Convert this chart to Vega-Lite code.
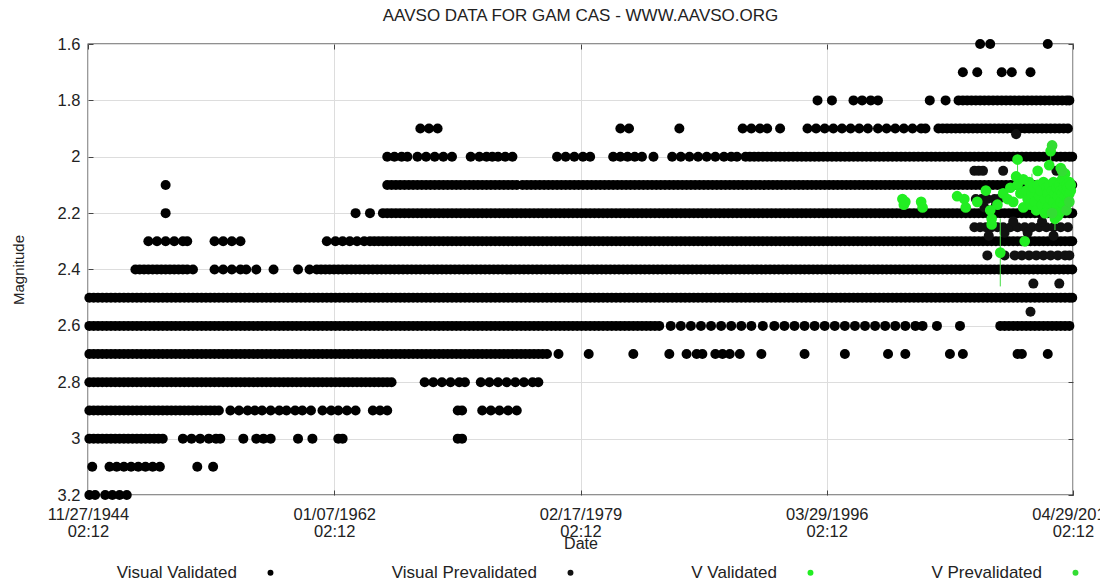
{
"$schema": "https://vega.github.io/schema/vega-lite/v6.json",
"autosize": {"type": "none"},
"padding": {"left": 88, "top": 44, "right": 27, "bottom": 89},
"width": 985,
"height": 451,
"background": "white",
"title": {"text": "AAVSO DATA FOR GAM CAS - WWW.AAVSO.ORG", "fontSize": 17, "font": "Liberation Sans", "fontWeight": "normal", "color": "#222", "anchor": "middle", "offset": 11},
"config": {
  "view": {"stroke": "#222", "strokeWidth": 1.3},
  "axis": {"labelFont": "Liberation Sans", "titleFont": "Liberation Sans", "labelColor": "#222", "titleColor": "#222", "labelFontSize": 16.5, "titleFontSize": 15, "titleFontWeight": "normal", "domain": false, "gridColor": "#dddddd", "gridWidth": 1, "tickColor": "#444", "tickSize": -5},
  "legend": {"orient": "none", "legendX": 174, "legendY": 520, "direction": "horizontal", "columns": 4, "labelAlign": "right", "labelOffset": -42, "columnPadding": 117, "symbolSize": 35, "labelFontSize": 17, "labelFont": "Liberation Sans", "labelColor": "#222", "labelLimit": 400, "title": null}
},
"datasets": {
"vv": [
{"year":1945.0,"mag":2.5},{"year":1945.6,"mag":2.5},{"year":1946.2,"mag":2.5},{"year":1946.8,"mag":2.5},{"year":1947.4,"mag":2.5},{"year":1948.0,"mag":2.5},{"year":1948.6,"mag":2.5},{"year":1949.2,"mag":2.5},{"year":1949.8,"mag":2.5},{"year":1950.4,"mag":2.5},{"year":1951.0,"mag":2.5},{"year":1951.6,"mag":2.5},{"year":1952.2,"mag":2.5},{"year":1952.8,"mag":2.5},{"year":1953.4,"mag":2.5},{"year":1954.0,"mag":2.5},{"year":1954.6,"mag":2.5},{"year":1955.2,"mag":2.5},{"year":1955.8,"mag":2.5},{"year":1956.4,"mag":2.5},{"year":1957.0,"mag":2.5},{"year":1957.6,"mag":2.5},{"year":1958.2,"mag":2.5},{"year":1958.8,"mag":2.5},{"year":1959.4,"mag":2.5},{"year":1960.0,"mag":2.5},{"year":1960.6,"mag":2.5},{"year":1961.2,"mag":2.5},{"year":1961.8,"mag":2.5},{"year":1962.4,"mag":2.5},{"year":1963.0,"mag":2.5},{"year":1963.6,"mag":2.5},{"year":1964.2,"mag":2.5},{"year":1964.8,"mag":2.5},{"year":1965.4,"mag":2.5},{"year":1966.0,"mag":2.5},{"year":1966.6,"mag":2.5},{"year":1967.2,"mag":2.5},{"year":1967.8,"mag":2.5},{"year":1968.4,"mag":2.5},{"year":1969.0,"mag":2.5},{"year":1969.6,"mag":2.5},{"year":1970.2,"mag":2.5},{"year":1970.8,"mag":2.5},{"year":1971.4,"mag":2.5},{"year":1972.0,"mag":2.5},{"year":1972.6,"mag":2.5},{"year":1973.2,"mag":2.5},{"year":1973.8,"mag":2.5},{"year":1974.4,"mag":2.5},{"year":1975.0,"mag":2.5},{"year":1975.6,"mag":2.5},{"year":1976.2,"mag":2.5},{"year":1976.8,"mag":2.5},{"year":1977.4,"mag":2.5},{"year":1978.0,"mag":2.5},{"year":1978.6,"mag":2.5},{"year":1979.2,"mag":2.5},{"year":1979.8,"mag":2.5},{"year":1980.4,"mag":2.5},{"year":1981.0,"mag":2.5},{"year":1981.6,"mag":2.5},{"year":1982.2,"mag":2.5},{"year":1982.8,"mag":2.5},{"year":1983.4,"mag":2.5},{"year":1984.0,"mag":2.5},{"year":1984.6,"mag":2.5},{"year":1985.2,"mag":2.5},{"year":1985.8,"mag":2.5},{"year":1986.4,"mag":2.5},{"year":1987.0,"mag":2.5},{"year":1987.6,"mag":2.5},{"year":1988.2,"mag":2.5},{"year":1988.8,"mag":2.5},{"year":1989.4,"mag":2.5},{"year":1990.0,"mag":2.5},{"year":1990.6,"mag":2.5},{"year":1991.2,"mag":2.5},{"year":1991.8,"mag":2.5},{"year":1992.4,"mag":2.5},{"year":1993.0,"mag":2.5},{"year":1993.6,"mag":2.5},{"year":1994.2,"mag":2.5},{"year":1994.8,"mag":2.5},{"year":1995.4,"mag":2.5},{"year":1996.0,"mag":2.5},{"year":1996.6,"mag":2.5},{"year":1997.2,"mag":2.5},{"year":1997.8,"mag":2.5},{"year":1998.4,"mag":2.5},{"year":1999.0,"mag":2.5},{"year":1999.6,"mag":2.5},{"year":2000.2,"mag":2.5},{"year":2000.8,"mag":2.5},{"year":2001.4,"mag":2.5},{"year":2002.0,"mag":2.5},{"year":2002.6,"mag":2.5},{"year":2003.2,"mag":2.5},{"year":2003.8,"mag":2.5},{"year":2004.4,"mag":2.5},{"year":2005.0,"mag":2.5},{"year":2005.6,"mag":2.5},{"year":2006.2,"mag":2.5},{"year":2006.8,"mag":2.5},{"year":2007.4,"mag":2.5},{"year":2008.0,"mag":2.5},{"year":2008.6,"mag":2.5},{"year":2009.2,"mag":2.5},{"year":2009.8,"mag":2.5},{"year":2010.4,"mag":2.5},{"year":2011.0,"mag":2.5},{"year":2011.6,"mag":2.5},{"year":2012.2,"mag":2.5},{"year":2012.8,"mag":2.5},{"year":2013.3,"mag":2.5},
{"year":1945.3,"mag":2.5},{"year":1945.9,"mag":2.5},{"year":1946.5,"mag":2.5},{"year":1947.1,"mag":2.5},{"year":1947.7,"mag":2.5},{"year":1948.3,"mag":2.5},{"year":1948.9,"mag":2.5},{"year":1949.5,"mag":2.5},{"year":1950.1,"mag":2.5},{"year":1950.7,"mag":2.5},{"year":1951.3,"mag":2.5},{"year":1951.9,"mag":2.5},{"year":1952.5,"mag":2.5},{"year":1953.1,"mag":2.5},{"year":1953.7,"mag":2.5},{"year":1954.3,"mag":2.5},{"year":1954.9,"mag":2.5},{"year":1955.5,"mag":2.5},{"year":1956.1,"mag":2.5},{"year":1956.7,"mag":2.5},{"year":1957.3,"mag":2.5},{"year":1957.9,"mag":2.5},{"year":1958.5,"mag":2.5},{"year":1959.1,"mag":2.5},{"year":1959.7,"mag":2.5},{"year":1960.3,"mag":2.5},{"year":1960.9,"mag":2.5},{"year":1961.5,"mag":2.5},{"year":1962.1,"mag":2.5},{"year":1962.7,"mag":2.5},{"year":1963.3,"mag":2.5},{"year":1963.9,"mag":2.5},{"year":1964.5,"mag":2.5},{"year":1965.1,"mag":2.5},{"year":1965.7,"mag":2.5},{"year":1966.3,"mag":2.5},{"year":1966.9,"mag":2.5},{"year":1967.5,"mag":2.5},{"year":1968.1,"mag":2.5},{"year":1968.7,"mag":2.5},{"year":1969.3,"mag":2.5},{"year":1969.9,"mag":2.5},{"year":1970.5,"mag":2.5},{"year":1971.1,"mag":2.5},{"year":1971.7,"mag":2.5},{"year":1972.3,"mag":2.5},{"year":1972.9,"mag":2.5},{"year":1973.5,"mag":2.5},{"year":1974.1,"mag":2.5},{"year":1974.7,"mag":2.5},{"year":1975.3,"mag":2.5},{"year":1975.9,"mag":2.5},{"year":1976.5,"mag":2.5},{"year":1977.1,"mag":2.5},{"year":1977.7,"mag":2.5},{"year":1978.3,"mag":2.5},{"year":1978.9,"mag":2.5},{"year":1979.5,"mag":2.5},{"year":1980.1,"mag":2.5},{"year":1980.7,"mag":2.5},{"year":1981.3,"mag":2.5},{"year":1981.9,"mag":2.5},{"year":1982.5,"mag":2.5},{"year":1983.1,"mag":2.5},{"year":1983.7,"mag":2.5},{"year":1984.3,"mag":2.5},{"year":1984.9,"mag":2.5},{"year":1985.5,"mag":2.5},{"year":1986.1,"mag":2.5},{"year":1986.7,"mag":2.5},{"year":1987.3,"mag":2.5},{"year":1987.9,"mag":2.5},{"year":1988.5,"mag":2.5},{"year":1989.1,"mag":2.5},{"year":1989.7,"mag":2.5},{"year":1990.3,"mag":2.5},{"year":1990.9,"mag":2.5},{"year":1991.5,"mag":2.5},{"year":1992.1,"mag":2.5},{"year":1992.7,"mag":2.5},{"year":1993.3,"mag":2.5},{"year":1993.9,"mag":2.5},{"year":1994.5,"mag":2.5},{"year":1995.1,"mag":2.5},{"year":1995.7,"mag":2.5},{"year":1996.3,"mag":2.5},{"year":1996.9,"mag":2.5},{"year":1997.5,"mag":2.5},{"year":1998.1,"mag":2.5},{"year":1998.7,"mag":2.5},{"year":1999.3,"mag":2.5},{"year":1999.9,"mag":2.5},{"year":2000.5,"mag":2.5},{"year":2001.1,"mag":2.5},{"year":2001.7,"mag":2.5},{"year":2002.3,"mag":2.5},{"year":2002.9,"mag":2.5},{"year":2003.5,"mag":2.5},{"year":2004.1,"mag":2.5},{"year":2004.7,"mag":2.5},{"year":2005.3,"mag":2.5},{"year":2005.9,"mag":2.5},{"year":2006.5,"mag":2.5},{"year":2007.1,"mag":2.5},{"year":2007.7,"mag":2.5},{"year":2008.3,"mag":2.5},{"year":2008.9,"mag":2.5},{"year":2009.5,"mag":2.5},{"year":2010.1,"mag":2.5},{"year":2010.7,"mag":2.5},{"year":2011.3,"mag":2.5},{"year":2011.9,"mag":2.5},{"year":2012.5,"mag":2.5},{"year":2013.1,"mag":2.5},
{"year":1945.0,"mag":2.6},{"year":1945.6,"mag":2.6},{"year":1946.2,"mag":2.6},{"year":1946.8,"mag":2.6},{"year":1947.4,"mag":2.6},{"year":1948.0,"mag":2.6},{"year":1948.6,"mag":2.6},{"year":1949.2,"mag":2.6},{"year":1949.8,"mag":2.6},{"year":1950.4,"mag":2.6},{"year":1951.0,"mag":2.6},{"year":1951.6,"mag":2.6},{"year":1952.2,"mag":2.6},{"year":1952.8,"mag":2.6},{"year":1953.4,"mag":2.6},{"year":1954.0,"mag":2.6},{"year":1954.6,"mag":2.6},{"year":1955.2,"mag":2.6},{"year":1955.8,"mag":2.6},{"year":1956.4,"mag":2.6},{"year":1957.0,"mag":2.6},{"year":1957.6,"mag":2.6},{"year":1958.2,"mag":2.6},{"year":1958.8,"mag":2.6},{"year":1959.4,"mag":2.6},{"year":1960.0,"mag":2.6},{"year":1960.6,"mag":2.6},{"year":1961.2,"mag":2.6},{"year":1961.8,"mag":2.6},{"year":1962.4,"mag":2.6},{"year":1963.0,"mag":2.6},{"year":1963.6,"mag":2.6},{"year":1964.2,"mag":2.6},{"year":1964.8,"mag":2.6},{"year":1965.4,"mag":2.6},{"year":1966.0,"mag":2.6},{"year":1966.6,"mag":2.6},{"year":1967.2,"mag":2.6},{"year":1967.8,"mag":2.6},{"year":1968.4,"mag":2.6},{"year":1969.0,"mag":2.6},{"year":1969.6,"mag":2.6},{"year":1970.2,"mag":2.6},{"year":1970.8,"mag":2.6},{"year":1971.4,"mag":2.6},{"year":1972.0,"mag":2.6},{"year":1972.6,"mag":2.6},{"year":1973.2,"mag":2.6},{"year":1973.8,"mag":2.6},{"year":1974.4,"mag":2.6},{"year":1975.0,"mag":2.6},{"year":1975.6,"mag":2.6},{"year":1976.2,"mag":2.6},{"year":1976.8,"mag":2.6},{"year":1977.4,"mag":2.6},{"year":1978.0,"mag":2.6},{"year":1978.6,"mag":2.6},{"year":1979.2,"mag":2.6},{"year":1979.8,"mag":2.6},{"year":1980.4,"mag":2.6},{"year":1981.0,"mag":2.6},{"year":1981.6,"mag":2.6},{"year":1982.2,"mag":2.6},{"year":1982.8,"mag":2.6},{"year":1983.4,"mag":2.6},{"year":1984.0,"mag":2.6},{"year":1984.6,"mag":2.6},{"year":1985.4,"mag":2.6},{"year":1986.1,"mag":2.6},{"year":1986.8,"mag":2.6},{"year":1987.5,"mag":2.6},{"year":1988.2,"mag":2.6},{"year":1988.9,"mag":2.6},{"year":1989.6,"mag":2.6},{"year":1990.3,"mag":2.6},{"year":1991.0,"mag":2.6},{"year":1991.8,"mag":2.6},{"year":1992.6,"mag":2.6},{"year":1993.3,"mag":2.6},{"year":1994.0,"mag":2.6},{"year":1994.7,"mag":2.6},{"year":1995.4,"mag":2.6},{"year":1996.1,"mag":2.6},{"year":1996.8,"mag":2.6},{"year":1997.5,"mag":2.6},{"year":1998.2,"mag":2.6},{"year":1998.9,"mag":2.6},{"year":1999.6,"mag":2.6},{"year":2000.3,"mag":2.6},{"year":2001.0,"mag":2.6},{"year":2001.7,"mag":2.6},{"year":2002.4,"mag":2.6},{"year":2002.9,"mag":2.6},{"year":2003.9,"mag":2.6},{"year":2005.5,"mag":2.6},{"year":2008.3,"mag":2.6},{"year":2008.9,"mag":2.6},{"year":2009.5,"mag":2.6},{"year":2010.1,"mag":2.6},{"year":2010.7,"mag":2.6},{"year":2011.3,"mag":2.6},{"year":2011.9,"mag":2.6},{"year":2012.5,"mag":2.6},{"year":2013.1,"mag":2.6},
{"year":1945.3,"mag":2.6},{"year":1945.9,"mag":2.6},{"year":1946.5,"mag":2.6},{"year":1947.1,"mag":2.6},{"year":1947.7,"mag":2.6},{"year":1948.3,"mag":2.6},{"year":1948.9,"mag":2.6},{"year":1949.5,"mag":2.6},{"year":1950.1,"mag":2.6},{"year":1950.7,"mag":2.6},{"year":1951.3,"mag":2.6},{"year":1951.9,"mag":2.6},{"year":1952.5,"mag":2.6},{"year":1953.1,"mag":2.6},{"year":1953.7,"mag":2.6},{"year":1954.3,"mag":2.6},{"year":1954.9,"mag":2.6},{"year":1955.5,"mag":2.6},{"year":1956.1,"mag":2.6},{"year":1956.7,"mag":2.6},{"year":1957.3,"mag":2.6},{"year":1957.9,"mag":2.6},{"year":1958.5,"mag":2.6},{"year":1959.1,"mag":2.6},{"year":1959.7,"mag":2.6},{"year":1960.3,"mag":2.6},{"year":1960.9,"mag":2.6},{"year":1961.5,"mag":2.6},{"year":1962.1,"mag":2.6},{"year":1962.7,"mag":2.6},{"year":1963.3,"mag":2.6},{"year":1963.9,"mag":2.6},{"year":1964.5,"mag":2.6},{"year":1965.1,"mag":2.6},{"year":1965.7,"mag":2.6},{"year":1966.3,"mag":2.6},{"year":1966.9,"mag":2.6},{"year":1967.5,"mag":2.6},{"year":1968.1,"mag":2.6},{"year":1968.7,"mag":2.6},{"year":1969.3,"mag":2.6},{"year":1969.9,"mag":2.6},{"year":1970.5,"mag":2.6},{"year":1971.1,"mag":2.6},{"year":1971.7,"mag":2.6},{"year":1972.3,"mag":2.6},{"year":1972.9,"mag":2.6},{"year":1973.5,"mag":2.6},{"year":1974.1,"mag":2.6},{"year":1974.7,"mag":2.6},{"year":1975.3,"mag":2.6},{"year":1975.9,"mag":2.6},{"year":1976.5,"mag":2.6},{"year":1977.1,"mag":2.6},{"year":1977.7,"mag":2.6},{"year":1978.3,"mag":2.6},{"year":1978.9,"mag":2.6},{"year":1979.5,"mag":2.6},{"year":1980.1,"mag":2.6},{"year":1980.7,"mag":2.6},{"year":1981.3,"mag":2.6},{"year":1981.9,"mag":2.6},{"year":1982.5,"mag":2.6},{"year":1983.1,"mag":2.6},{"year":1983.7,"mag":2.6},{"year":1984.3,"mag":2.6},{"year":2008.6,"mag":2.6},{"year":2009.2,"mag":2.6},{"year":2009.8,"mag":2.6},{"year":2010.4,"mag":2.6},{"year":2011.0,"mag":2.6},{"year":2011.6,"mag":2.6},{"year":2012.2,"mag":2.6},{"year":2012.8,"mag":2.6},
{"year":1945.0,"mag":2.7},{"year":1945.6,"mag":2.7},{"year":1946.2,"mag":2.7},{"year":1946.8,"mag":2.7},{"year":1947.4,"mag":2.7},{"year":1948.0,"mag":2.7},{"year":1948.6,"mag":2.7},{"year":1949.2,"mag":2.7},{"year":1949.8,"mag":2.7},{"year":1950.4,"mag":2.7},{"year":1951.0,"mag":2.7},{"year":1951.6,"mag":2.7},{"year":1952.2,"mag":2.7},{"year":1952.8,"mag":2.7},{"year":1953.4,"mag":2.7},{"year":1954.0,"mag":2.7},{"year":1954.6,"mag":2.7},{"year":1955.2,"mag":2.7},{"year":1955.8,"mag":2.7},{"year":1956.4,"mag":2.7},{"year":1957.0,"mag":2.7},{"year":1957.6,"mag":2.7},{"year":1958.2,"mag":2.7},{"year":1958.8,"mag":2.7},{"year":1959.4,"mag":2.7},{"year":1960.0,"mag":2.7},{"year":1960.6,"mag":2.7},{"year":1961.2,"mag":2.7},{"year":1961.8,"mag":2.7},{"year":1962.4,"mag":2.7},{"year":1963.0,"mag":2.7},{"year":1963.6,"mag":2.7},{"year":1964.2,"mag":2.7},{"year":1964.8,"mag":2.7},{"year":1965.4,"mag":2.7},{"year":1966.0,"mag":2.7},{"year":1966.6,"mag":2.7},{"year":1967.2,"mag":2.7},{"year":1967.8,"mag":2.7},{"year":1968.4,"mag":2.7},{"year":1969.0,"mag":2.7},{"year":1969.6,"mag":2.7},{"year":1970.2,"mag":2.7},{"year":1970.8,"mag":2.7},{"year":1971.4,"mag":2.7},{"year":1972.0,"mag":2.7},{"year":1972.6,"mag":2.7},{"year":1973.2,"mag":2.7},{"year":1973.8,"mag":2.7},{"year":1974.4,"mag":2.7},{"year":1975.0,"mag":2.7},{"year":1975.6,"mag":2.7},{"year":1976.2,"mag":2.7},{"year":1976.8,"mag":2.7},{"year":1977.6,"mag":2.7},{"year":1979.7,"mag":2.7},{"year":1982.8,"mag":2.7},{"year":1985.3,"mag":2.7},{"year":1986.5,"mag":2.7},{"year":1987.2,"mag":2.7},{"year":1987.6,"mag":2.7},{"year":1988.5,"mag":2.7},{"year":1989.0,"mag":2.7},{"year":1989.5,"mag":2.7},{"year":1990.2,"mag":2.7},{"year":1991.7,"mag":2.7},{"year":1994.7,"mag":2.7},{"year":1997.5,"mag":2.7},{"year":2000.5,"mag":2.7},{"year":2001.7,"mag":2.7},{"year":2004.8,"mag":2.7},{"year":2005.7,"mag":2.7},{"year":2009.5,"mag":2.7},{"year":2009.8,"mag":2.7},{"year":2011.6,"mag":2.7},
{"year":1945.3,"mag":2.7},{"year":1945.9,"mag":2.7},{"year":1946.5,"mag":2.7},{"year":1947.1,"mag":2.7},{"year":1947.7,"mag":2.7},{"year":1948.3,"mag":2.7},{"year":1948.9,"mag":2.7},{"year":1949.5,"mag":2.7},{"year":1950.1,"mag":2.7},{"year":1950.7,"mag":2.7},{"year":1951.3,"mag":2.7},{"year":1951.9,"mag":2.7},{"year":1952.5,"mag":2.7},{"year":1953.1,"mag":2.7},{"year":1953.7,"mag":2.7},{"year":1954.3,"mag":2.7},{"year":1954.9,"mag":2.7},{"year":1955.5,"mag":2.7},{"year":1956.1,"mag":2.7},{"year":1956.7,"mag":2.7},{"year":1957.3,"mag":2.7},{"year":1957.9,"mag":2.7},{"year":1958.5,"mag":2.7},{"year":1959.1,"mag":2.7},{"year":1959.7,"mag":2.7},{"year":1960.3,"mag":2.7},{"year":1960.9,"mag":2.7},{"year":1961.5,"mag":2.7},{"year":1962.1,"mag":2.7},{"year":1962.7,"mag":2.7},{"year":1963.3,"mag":2.7},{"year":1963.9,"mag":2.7},{"year":1964.5,"mag":2.7},{"year":1965.1,"mag":2.7},{"year":1965.7,"mag":2.7},{"year":1966.3,"mag":2.7},{"year":1966.9,"mag":2.7},{"year":1967.5,"mag":2.7},{"year":1968.1,"mag":2.7},{"year":1968.7,"mag":2.7},{"year":1969.3,"mag":2.7},{"year":1969.9,"mag":2.7},{"year":1970.5,"mag":2.7},{"year":1971.1,"mag":2.7},{"year":1971.7,"mag":2.7},{"year":1972.3,"mag":2.7},{"year":1972.9,"mag":2.7},{"year":1973.5,"mag":2.7},{"year":1974.1,"mag":2.7},{"year":1974.7,"mag":2.7},{"year":1975.3,"mag":2.7},{"year":1975.9,"mag":2.7},{"year":1976.5,"mag":2.7},
{"year":1945.0,"mag":2.8},{"year":1945.6,"mag":2.8},{"year":1946.2,"mag":2.8},{"year":1946.8,"mag":2.8},{"year":1947.4,"mag":2.8},{"year":1948.0,"mag":2.8},{"year":1948.6,"mag":2.8},{"year":1949.2,"mag":2.8},{"year":1949.8,"mag":2.8},{"year":1950.4,"mag":2.8},{"year":1951.0,"mag":2.8},{"year":1951.6,"mag":2.8},{"year":1952.2,"mag":2.8},{"year":1952.8,"mag":2.8},{"year":1953.4,"mag":2.8},{"year":1954.0,"mag":2.8},{"year":1954.6,"mag":2.8},{"year":1955.2,"mag":2.8},{"year":1955.8,"mag":2.8},{"year":1956.4,"mag":2.8},{"year":1957.0,"mag":2.8},{"year":1957.6,"mag":2.8},{"year":1958.2,"mag":2.8},{"year":1958.8,"mag":2.8},{"year":1959.4,"mag":2.8},{"year":1960.0,"mag":2.8},{"year":1960.6,"mag":2.8},{"year":1961.2,"mag":2.8},{"year":1961.8,"mag":2.8},{"year":1962.4,"mag":2.8},{"year":1963.0,"mag":2.8},{"year":1963.6,"mag":2.8},{"year":1964.2,"mag":2.8},{"year":1964.8,"mag":2.8},{"year":1965.4,"mag":2.8},{"year":1966.0,"mag":2.8},{"year":1968.3,"mag":2.8},{"year":1968.9,"mag":2.8},{"year":1969.5,"mag":2.8},{"year":1970.1,"mag":2.8},{"year":1970.7,"mag":2.8},{"year":1971.1,"mag":2.8},{"year":1972.2,"mag":2.8},{"year":1972.8,"mag":2.8},{"year":1973.4,"mag":2.8},{"year":1974.0,"mag":2.8},{"year":1974.6,"mag":2.8},{"year":1975.2,"mag":2.8},{"year":1975.8,"mag":2.8},{"year":1976.2,"mag":2.8},
{"year":1945.3,"mag":2.8},{"year":1945.9,"mag":2.8},{"year":1946.5,"mag":2.8},{"year":1947.1,"mag":2.8},{"year":1947.7,"mag":2.8},{"year":1948.3,"mag":2.8},{"year":1948.9,"mag":2.8},{"year":1949.5,"mag":2.8},{"year":1950.1,"mag":2.8},{"year":1950.7,"mag":2.8},{"year":1951.3,"mag":2.8},{"year":1951.9,"mag":2.8},{"year":1952.5,"mag":2.8},{"year":1953.1,"mag":2.8},{"year":1953.7,"mag":2.8},{"year":1954.3,"mag":2.8},{"year":1954.9,"mag":2.8},{"year":1955.5,"mag":2.8},{"year":1956.1,"mag":2.8},{"year":1956.7,"mag":2.8},{"year":1957.3,"mag":2.8},{"year":1957.9,"mag":2.8},{"year":1958.5,"mag":2.8},{"year":1959.1,"mag":2.8},{"year":1959.7,"mag":2.8},{"year":1960.3,"mag":2.8},{"year":1960.9,"mag":2.8},{"year":1961.5,"mag":2.8},{"year":1962.1,"mag":2.8},{"year":1962.7,"mag":2.8},{"year":1963.3,"mag":2.8},{"year":1963.9,"mag":2.8},{"year":1964.5,"mag":2.8},{"year":1965.1,"mag":2.8},{"year":1965.7,"mag":2.8},
{"year":1945.0,"mag":2.9},{"year":1945.6,"mag":2.9},{"year":1946.2,"mag":2.9},{"year":1946.8,"mag":2.9},{"year":1947.4,"mag":2.9},{"year":1948.0,"mag":2.9},{"year":1948.6,"mag":2.9},{"year":1949.2,"mag":2.9},{"year":1949.8,"mag":2.9},{"year":1950.4,"mag":2.9},{"year":1951.0,"mag":2.9},{"year":1951.6,"mag":2.9},{"year":1952.2,"mag":2.9},{"year":1952.8,"mag":2.9},{"year":1953.4,"mag":2.9},{"year":1954.0,"mag":2.9},{"year":1954.8,"mag":2.9},{"year":1955.4,"mag":2.9},{"year":1956.0,"mag":2.9},{"year":1956.5,"mag":2.9},{"year":1957.0,"mag":2.9},{"year":1957.6,"mag":2.9},{"year":1958.2,"mag":2.9},{"year":1958.7,"mag":2.9},{"year":1959.3,"mag":2.9},{"year":1959.8,"mag":2.9},{"year":1960.4,"mag":2.9},{"year":1961.2,"mag":2.9},{"year":1961.8,"mag":2.9},{"year":1962.3,"mag":2.9},{"year":1962.9,"mag":2.9},{"year":1963.5,"mag":2.9},{"year":1964.7,"mag":2.9},{"year":1965.2,"mag":2.9},{"year":1965.7,"mag":2.9},{"year":1970.6,"mag":2.9},{"year":1970.9,"mag":2.9},{"year":1972.3,"mag":2.9},{"year":1972.9,"mag":2.9},{"year":1973.5,"mag":2.9},{"year":1974.1,"mag":2.9},{"year":1974.7,"mag":2.9},
{"year":1945.3,"mag":2.9},{"year":1945.9,"mag":2.9},{"year":1946.5,"mag":2.9},{"year":1947.1,"mag":2.9},{"year":1947.7,"mag":2.9},{"year":1948.3,"mag":2.9},{"year":1948.9,"mag":2.9},{"year":1949.5,"mag":2.9},{"year":1950.1,"mag":2.9},{"year":1950.7,"mag":2.9},{"year":1951.3,"mag":2.9},{"year":1951.9,"mag":2.9},{"year":1952.5,"mag":2.9},{"year":1953.1,"mag":2.9},{"year":1953.7,"mag":2.9},
{"year":1945.0,"mag":3.0},{"year":1945.6,"mag":3.0},{"year":1946.2,"mag":3.0},{"year":1946.8,"mag":3.0},{"year":1947.4,"mag":3.0},{"year":1948.0,"mag":3.0},{"year":1948.6,"mag":3.0},{"year":1949.2,"mag":3.0},{"year":1949.8,"mag":3.0},{"year":1950.1,"mag":3.0},{"year":1951.5,"mag":3.0},{"year":1952.1,"mag":3.0},{"year":1952.7,"mag":3.0},{"year":1953.3,"mag":3.0},{"year":1953.8,"mag":3.0},{"year":1954.1,"mag":3.0},{"year":1955.7,"mag":3.0},{"year":1956.6,"mag":3.0},{"year":1957.1,"mag":3.0},{"year":1957.6,"mag":3.0},{"year":1959.5,"mag":3.0},{"year":1960.5,"mag":3.0},{"year":1962.3,"mag":3.0},{"year":1962.6,"mag":3.0},{"year":1970.6,"mag":3.0},{"year":1970.9,"mag":3.0},
{"year":1945.3,"mag":3.0},{"year":1945.9,"mag":3.0},{"year":1946.5,"mag":3.0},{"year":1947.1,"mag":3.0},{"year":1947.7,"mag":3.0},{"year":1948.3,"mag":3.0},{"year":1948.9,"mag":3.0},{"year":1949.5,"mag":3.0},
{"year":1945.2,"mag":3.1},{"year":1946.4,"mag":3.1},{"year":1946.9,"mag":3.1},{"year":1947.4,"mag":3.1},{"year":1947.9,"mag":3.1},{"year":1948.4,"mag":3.1},{"year":1948.9,"mag":3.1},{"year":1949.4,"mag":3.1},{"year":1949.9,"mag":3.1},{"year":1952.5,"mag":3.1},{"year":1953.6,"mag":3.1},
{"year":1945.0,"mag":3.2},{"year":1945.4,"mag":3.2},{"year":1946.1,"mag":3.2},{"year":1946.6,"mag":3.2},{"year":1947.1,"mag":3.2},{"year":1947.6,"mag":3.2},
{"year":1948.2,"mag":2.4},{"year":1948.8,"mag":2.4},{"year":1949.4,"mag":2.4},{"year":1950.0,"mag":2.4},{"year":1950.6,"mag":2.4},{"year":1951.2,"mag":2.4},{"year":1951.8,"mag":2.4},{"year":1952.2,"mag":2.4},{"year":1953.7,"mag":2.4},{"year":1954.3,"mag":2.4},{"year":1954.9,"mag":2.4},{"year":1955.5,"mag":2.4},{"year":1955.9,"mag":2.4},{"year":1956.6,"mag":2.4},{"year":1957.8,"mag":2.4},{"year":1959.5,"mag":2.4},{"year":1960.3,"mag":2.4},{"year":1960.8,"mag":2.4},{"year":1961.4,"mag":2.4},{"year":1962.0,"mag":2.4},{"year":1962.6,"mag":2.4},{"year":1963.2,"mag":2.4},{"year":1963.8,"mag":2.4},{"year":1964.4,"mag":2.4},{"year":1965.0,"mag":2.4},{"year":1965.6,"mag":2.4},{"year":1966.2,"mag":2.4},{"year":1966.8,"mag":2.4},{"year":1967.4,"mag":2.4},{"year":1968.0,"mag":2.4},{"year":1968.6,"mag":2.4},{"year":1969.2,"mag":2.4},{"year":1969.8,"mag":2.4},{"year":1970.4,"mag":2.4},{"year":1971.0,"mag":2.4},{"year":1971.6,"mag":2.4},{"year":1972.2,"mag":2.4},{"year":1972.8,"mag":2.4},{"year":1973.4,"mag":2.4},{"year":1974.0,"mag":2.4},{"year":1974.6,"mag":2.4},{"year":1975.2,"mag":2.4},{"year":1975.8,"mag":2.4},{"year":1976.4,"mag":2.4},{"year":1977.0,"mag":2.4},{"year":1977.6,"mag":2.4},{"year":1978.2,"mag":2.4},{"year":1978.8,"mag":2.4},{"year":1979.4,"mag":2.4},{"year":1980.0,"mag":2.4},{"year":1980.6,"mag":2.4},{"year":1981.2,"mag":2.4},{"year":1981.8,"mag":2.4},{"year":1982.4,"mag":2.4},{"year":1983.0,"mag":2.4},{"year":1983.6,"mag":2.4},{"year":1984.2,"mag":2.4},{"year":1984.8,"mag":2.4},{"year":1985.4,"mag":2.4},{"year":1986.0,"mag":2.4},{"year":1986.6,"mag":2.4},{"year":1987.2,"mag":2.4},{"year":1987.8,"mag":2.4},{"year":1988.4,"mag":2.4},{"year":1989.0,"mag":2.4},{"year":1989.6,"mag":2.4},{"year":1990.2,"mag":2.4},{"year":1990.8,"mag":2.4},{"year":1991.4,"mag":2.4},{"year":1992.0,"mag":2.4},{"year":1992.6,"mag":2.4},{"year":1993.2,"mag":2.4},{"year":1993.8,"mag":2.4},{"year":1994.4,"mag":2.4},{"year":1995.0,"mag":2.4},{"year":1995.6,"mag":2.4},{"year":1996.2,"mag":2.4},{"year":1996.8,"mag":2.4},{"year":1997.4,"mag":2.4},{"year":1998.0,"mag":2.4},{"year":1998.6,"mag":2.4},{"year":1999.2,"mag":2.4},{"year":1999.8,"mag":2.4},{"year":2000.4,"mag":2.4},{"year":2001.0,"mag":2.4},{"year":2001.6,"mag":2.4},{"year":2002.2,"mag":2.4},{"year":2002.8,"mag":2.4},{"year":2003.4,"mag":2.4},{"year":2004.0,"mag":2.4},{"year":2004.6,"mag":2.4},{"year":2005.2,"mag":2.4},{"year":2005.8,"mag":2.4},{"year":2006.4,"mag":2.4},{"year":2007.0,"mag":2.4},{"year":2007.6,"mag":2.4},{"year":2008.2,"mag":2.4},{"year":2008.8,"mag":2.4},{"year":2009.4,"mag":2.4},{"year":2010.0,"mag":2.4},{"year":2010.6,"mag":2.4},{"year":2011.2,"mag":2.4},{"year":2011.8,"mag":2.4},{"year":2012.4,"mag":2.4},{"year":2013.0,"mag":2.4},{"year":2013.3,"mag":2.4},
{"year":1948.5,"mag":2.4},{"year":1949.1,"mag":2.4},{"year":1949.7,"mag":2.4},{"year":1950.3,"mag":2.4},{"year":1950.9,"mag":2.4},{"year":1951.5,"mag":2.4},{"year":1961.1,"mag":2.4},{"year":1961.7,"mag":2.4},{"year":1962.3,"mag":2.4},{"year":1962.9,"mag":2.4},{"year":1963.5,"mag":2.4},{"year":1964.1,"mag":2.4},{"year":1964.7,"mag":2.4},{"year":1965.3,"mag":2.4},{"year":1965.9,"mag":2.4},{"year":1966.5,"mag":2.4},{"year":1967.1,"mag":2.4},{"year":1967.7,"mag":2.4},{"year":1968.3,"mag":2.4},{"year":1968.9,"mag":2.4},{"year":1969.5,"mag":2.4},{"year":1970.1,"mag":2.4},{"year":1970.7,"mag":2.4},{"year":1971.3,"mag":2.4},{"year":1971.9,"mag":2.4},{"year":1972.5,"mag":2.4},{"year":1973.1,"mag":2.4},{"year":1973.7,"mag":2.4},{"year":1974.3,"mag":2.4},{"year":1974.9,"mag":2.4},{"year":1975.5,"mag":2.4},{"year":1976.1,"mag":2.4},{"year":1976.7,"mag":2.4},{"year":1977.3,"mag":2.4},{"year":1977.9,"mag":2.4},{"year":1978.5,"mag":2.4},{"year":1979.1,"mag":2.4},{"year":1979.7,"mag":2.4},{"year":1980.3,"mag":2.4},{"year":1980.9,"mag":2.4},{"year":1981.5,"mag":2.4},{"year":1982.1,"mag":2.4},{"year":1982.7,"mag":2.4},{"year":1983.3,"mag":2.4},{"year":1983.9,"mag":2.4},{"year":1984.5,"mag":2.4},{"year":1985.1,"mag":2.4},{"year":1985.7,"mag":2.4},{"year":1986.3,"mag":2.4},{"year":1986.9,"mag":2.4},{"year":1987.5,"mag":2.4},{"year":1988.1,"mag":2.4},{"year":1988.7,"mag":2.4},{"year":1989.3,"mag":2.4},{"year":1989.9,"mag":2.4},{"year":1990.5,"mag":2.4},{"year":1991.1,"mag":2.4},{"year":1991.7,"mag":2.4},{"year":1992.3,"mag":2.4},{"year":1992.9,"mag":2.4},{"year":1993.5,"mag":2.4},{"year":1994.1,"mag":2.4},{"year":1994.7,"mag":2.4},{"year":1995.3,"mag":2.4},{"year":1995.9,"mag":2.4},{"year":1996.5,"mag":2.4},{"year":1997.1,"mag":2.4},{"year":1997.7,"mag":2.4},{"year":1998.3,"mag":2.4},{"year":1998.9,"mag":2.4},{"year":1999.5,"mag":2.4},{"year":2000.1,"mag":2.4},{"year":2000.7,"mag":2.4},{"year":2001.3,"mag":2.4},{"year":2001.9,"mag":2.4},{"year":2002.5,"mag":2.4},{"year":2003.1,"mag":2.4},{"year":2003.7,"mag":2.4},{"year":2004.3,"mag":2.4},{"year":2004.9,"mag":2.4},{"year":2005.5,"mag":2.4},{"year":2006.1,"mag":2.4},{"year":2006.7,"mag":2.4},{"year":2007.3,"mag":2.4},{"year":2007.9,"mag":2.4},{"year":2008.5,"mag":2.4},{"year":2009.1,"mag":2.4},{"year":2009.7,"mag":2.4},{"year":2010.3,"mag":2.4},{"year":2010.9,"mag":2.4},{"year":2011.5,"mag":2.4},{"year":2012.1,"mag":2.4},{"year":2012.7,"mag":2.4},
{"year":1949.1,"mag":2.3},{"year":1949.7,"mag":2.3},{"year":1950.3,"mag":2.3},{"year":1950.9,"mag":2.3},{"year":1951.5,"mag":2.3},{"year":1951.8,"mag":2.3},{"year":1953.7,"mag":2.3},{"year":1954.3,"mag":2.3},{"year":1954.9,"mag":2.3},{"year":1955.5,"mag":2.3},{"year":1961.5,"mag":2.3},{"year":1962.1,"mag":2.3},{"year":1962.6,"mag":2.3},{"year":1963.1,"mag":2.3},{"year":1963.6,"mag":2.3},{"year":1964.1,"mag":2.3},{"year":1964.5,"mag":2.3},{"year":1964.8,"mag":2.3},{"year":1965.4,"mag":2.3},{"year":1966.0,"mag":2.3},{"year":1966.6,"mag":2.3},{"year":1967.2,"mag":2.3},{"year":1967.8,"mag":2.3},{"year":1968.4,"mag":2.3},{"year":1969.0,"mag":2.3},{"year":1969.6,"mag":2.3},{"year":1970.2,"mag":2.3},{"year":1970.8,"mag":2.3},{"year":1971.4,"mag":2.3},{"year":1972.0,"mag":2.3},{"year":1972.6,"mag":2.3},{"year":1973.2,"mag":2.3},{"year":1973.8,"mag":2.3},{"year":1974.4,"mag":2.3},{"year":1975.0,"mag":2.3},{"year":1975.6,"mag":2.3},{"year":1976.2,"mag":2.3},{"year":1976.8,"mag":2.3},{"year":1977.4,"mag":2.3},{"year":1978.0,"mag":2.3},{"year":1978.6,"mag":2.3},{"year":1979.2,"mag":2.3},{"year":1979.8,"mag":2.3},{"year":1980.4,"mag":2.3},{"year":1981.0,"mag":2.3},{"year":1981.6,"mag":2.3},{"year":1982.2,"mag":2.3},{"year":1982.8,"mag":2.3},{"year":1983.4,"mag":2.3},{"year":1984.0,"mag":2.3},{"year":1984.6,"mag":2.3},{"year":1985.2,"mag":2.3},{"year":1985.8,"mag":2.3},{"year":1986.4,"mag":2.3},{"year":1987.0,"mag":2.3},{"year":1987.6,"mag":2.3},{"year":1988.2,"mag":2.3},{"year":1988.8,"mag":2.3},{"year":1989.4,"mag":2.3},{"year":1990.0,"mag":2.3},{"year":1990.6,"mag":2.3},{"year":1991.2,"mag":2.3},{"year":1991.8,"mag":2.3},{"year":1992.4,"mag":2.3},{"year":1993.0,"mag":2.3},{"year":1993.6,"mag":2.3},{"year":1994.2,"mag":2.3},{"year":1994.8,"mag":2.3},{"year":1995.4,"mag":2.3},{"year":1996.0,"mag":2.3},{"year":1996.6,"mag":2.3},{"year":1997.2,"mag":2.3},{"year":1997.8,"mag":2.3},{"year":1998.4,"mag":2.3},{"year":1999.0,"mag":2.3},{"year":1999.6,"mag":2.3},{"year":2000.2,"mag":2.3},{"year":2000.8,"mag":2.3},{"year":2001.4,"mag":2.3},{"year":2002.0,"mag":2.3},{"year":2002.6,"mag":2.3},{"year":2003.2,"mag":2.3},{"year":2003.8,"mag":2.3},{"year":2004.4,"mag":2.3},{"year":2005.0,"mag":2.3},{"year":2005.6,"mag":2.3},{"year":2006.2,"mag":2.3},{"year":2006.8,"mag":2.3},{"year":2007.4,"mag":2.3},{"year":2008.0,"mag":2.3},{"year":2008.6,"mag":2.3},{"year":2009.2,"mag":2.3},{"year":2009.8,"mag":2.3},{"year":2010.4,"mag":2.3},{"year":2011.0,"mag":2.3},{"year":2011.6,"mag":2.3},{"year":2012.2,"mag":2.3},{"year":2012.8,"mag":2.3},{"year":2013.3,"mag":2.3},
{"year":1965.1,"mag":2.3},{"year":1965.7,"mag":2.3},{"year":1966.3,"mag":2.3},{"year":1966.9,"mag":2.3},{"year":1967.5,"mag":2.3},{"year":1968.1,"mag":2.3},{"year":1968.7,"mag":2.3},{"year":1969.3,"mag":2.3},{"year":1969.9,"mag":2.3},{"year":1970.5,"mag":2.3},{"year":1971.1,"mag":2.3},{"year":1971.7,"mag":2.3},{"year":1972.3,"mag":2.3},{"year":1972.9,"mag":2.3},{"year":1973.5,"mag":2.3},{"year":1974.1,"mag":2.3},{"year":1974.7,"mag":2.3},{"year":1975.3,"mag":2.3},{"year":1975.9,"mag":2.3},{"year":1976.5,"mag":2.3},{"year":1977.1,"mag":2.3},{"year":1977.7,"mag":2.3},{"year":1978.3,"mag":2.3},{"year":1978.9,"mag":2.3},{"year":1979.5,"mag":2.3},{"year":1980.1,"mag":2.3},{"year":1980.7,"mag":2.3},{"year":1981.3,"mag":2.3},{"year":1981.9,"mag":2.3},{"year":1982.5,"mag":2.3},{"year":1983.1,"mag":2.3},{"year":1983.7,"mag":2.3},{"year":1984.3,"mag":2.3},{"year":1984.9,"mag":2.3},{"year":1985.5,"mag":2.3},{"year":1986.1,"mag":2.3},{"year":1986.7,"mag":2.3},{"year":1987.3,"mag":2.3},{"year":1987.9,"mag":2.3},{"year":1988.5,"mag":2.3},{"year":1989.1,"mag":2.3},{"year":1989.7,"mag":2.3},{"year":1990.3,"mag":2.3},{"year":1990.9,"mag":2.3},{"year":1991.5,"mag":2.3},{"year":1992.1,"mag":2.3},{"year":1992.7,"mag":2.3},{"year":1993.3,"mag":2.3},{"year":1993.9,"mag":2.3},{"year":1994.5,"mag":2.3},{"year":1995.1,"mag":2.3},{"year":1995.7,"mag":2.3},{"year":1996.3,"mag":2.3},{"year":1996.9,"mag":2.3},{"year":1997.5,"mag":2.3},{"year":1998.1,"mag":2.3},{"year":1998.7,"mag":2.3},{"year":1999.3,"mag":2.3},{"year":1999.9,"mag":2.3},{"year":2000.5,"mag":2.3},{"year":2001.1,"mag":2.3},{"year":2001.7,"mag":2.3},{"year":2002.3,"mag":2.3},{"year":2002.9,"mag":2.3},{"year":2003.5,"mag":2.3},{"year":2004.1,"mag":2.3},{"year":2004.7,"mag":2.3},{"year":2005.3,"mag":2.3},{"year":2005.9,"mag":2.3},{"year":2006.5,"mag":2.3},{"year":2007.1,"mag":2.3},{"year":2007.7,"mag":2.3},{"year":2008.3,"mag":2.3},{"year":2008.9,"mag":2.3},{"year":2009.5,"mag":2.3},{"year":2010.1,"mag":2.3},{"year":2010.7,"mag":2.3},{"year":2011.3,"mag":2.3},{"year":2011.9,"mag":2.3},{"year":2012.5,"mag":2.3},{"year":2013.1,"mag":2.3},
{"year":1950.3,"mag":2.2},{"year":1963.5,"mag":2.2},{"year":1964.5,"mag":2.2},{"year":1965.4,"mag":2.2},{"year":1966.0,"mag":2.2},{"year":1966.6,"mag":2.2},{"year":1967.2,"mag":2.2},{"year":1967.8,"mag":2.2},{"year":1968.4,"mag":2.2},{"year":1969.0,"mag":2.2},{"year":1969.6,"mag":2.2},{"year":1970.2,"mag":2.2},{"year":1970.8,"mag":2.2},{"year":1971.4,"mag":2.2},{"year":1972.0,"mag":2.2},{"year":1972.6,"mag":2.2},{"year":1973.2,"mag":2.2},{"year":1973.8,"mag":2.2},{"year":1974.4,"mag":2.2},{"year":1975.0,"mag":2.2},{"year":1975.6,"mag":2.2},{"year":1976.2,"mag":2.2},{"year":1976.8,"mag":2.2},{"year":1977.4,"mag":2.2},{"year":1978.0,"mag":2.2},{"year":1978.6,"mag":2.2},{"year":1979.2,"mag":2.2},{"year":1979.8,"mag":2.2},{"year":1980.4,"mag":2.2},{"year":1981.0,"mag":2.2},{"year":1981.6,"mag":2.2},{"year":1982.2,"mag":2.2},{"year":1982.8,"mag":2.2},{"year":1983.4,"mag":2.2},{"year":1984.0,"mag":2.2},{"year":1984.6,"mag":2.2},{"year":1985.2,"mag":2.2},{"year":1985.8,"mag":2.2},{"year":1986.4,"mag":2.2},{"year":1987.0,"mag":2.2},{"year":1987.6,"mag":2.2},{"year":1988.2,"mag":2.2},{"year":1988.8,"mag":2.2},{"year":1989.4,"mag":2.2},{"year":1990.0,"mag":2.2},{"year":1990.6,"mag":2.2},{"year":1991.2,"mag":2.2},{"year":1991.8,"mag":2.2},{"year":1992.4,"mag":2.2},{"year":1993.0,"mag":2.2},{"year":1993.6,"mag":2.2},{"year":1994.2,"mag":2.2},{"year":1994.8,"mag":2.2},{"year":1995.4,"mag":2.2},{"year":1996.0,"mag":2.2},{"year":1996.6,"mag":2.2},{"year":1997.2,"mag":2.2},{"year":1997.8,"mag":2.2},{"year":1998.4,"mag":2.2},{"year":1999.0,"mag":2.2},{"year":1999.6,"mag":2.2},{"year":2000.2,"mag":2.2},{"year":2000.8,"mag":2.2},{"year":2001.4,"mag":2.2},{"year":2002.0,"mag":2.2},{"year":2002.6,"mag":2.2},{"year":2003.2,"mag":2.2},{"year":2003.8,"mag":2.2},{"year":2004.4,"mag":2.2},{"year":2005.0,"mag":2.2},{"year":2005.6,"mag":2.2},{"year":2006.2,"mag":2.2},{"year":2006.8,"mag":2.2},{"year":2007.4,"mag":2.2},{"year":2008.0,"mag":2.2},{"year":2008.6,"mag":2.2},{"year":2009.2,"mag":2.2},{"year":2009.8,"mag":2.2},{"year":2010.4,"mag":2.2},{"year":2011.0,"mag":2.2},{"year":2011.6,"mag":2.2},{"year":2012.2,"mag":2.2},{"year":2012.8,"mag":2.2},{"year":2013.3,"mag":2.2},
{"year":1965.7,"mag":2.2},{"year":1966.3,"mag":2.2},{"year":1966.9,"mag":2.2},{"year":1967.5,"mag":2.2},{"year":1968.1,"mag":2.2},{"year":1968.7,"mag":2.2},{"year":1969.3,"mag":2.2},{"year":1969.9,"mag":2.2},{"year":1970.5,"mag":2.2},{"year":1971.1,"mag":2.2},{"year":1971.7,"mag":2.2},{"year":1972.3,"mag":2.2},{"year":1972.9,"mag":2.2},{"year":1973.5,"mag":2.2},{"year":1974.1,"mag":2.2},{"year":1974.7,"mag":2.2},{"year":1975.3,"mag":2.2},{"year":1975.9,"mag":2.2},{"year":1976.5,"mag":2.2},{"year":1977.1,"mag":2.2},{"year":1977.7,"mag":2.2},{"year":1978.3,"mag":2.2},{"year":1978.9,"mag":2.2},{"year":1979.5,"mag":2.2},{"year":1980.1,"mag":2.2},{"year":1980.7,"mag":2.2},{"year":1981.3,"mag":2.2},{"year":1981.9,"mag":2.2},{"year":1982.5,"mag":2.2},{"year":1983.1,"mag":2.2},{"year":1983.7,"mag":2.2},{"year":1984.3,"mag":2.2},{"year":1984.9,"mag":2.2},{"year":1985.5,"mag":2.2},{"year":1986.1,"mag":2.2},{"year":1986.7,"mag":2.2},{"year":1987.3,"mag":2.2},{"year":1987.9,"mag":2.2},{"year":1988.5,"mag":2.2},{"year":1989.1,"mag":2.2},{"year":1989.7,"mag":2.2},{"year":1990.3,"mag":2.2},{"year":1990.9,"mag":2.2},{"year":1991.5,"mag":2.2},{"year":1992.1,"mag":2.2},{"year":1992.7,"mag":2.2},{"year":1993.3,"mag":2.2},{"year":1993.9,"mag":2.2},{"year":1994.5,"mag":2.2},{"year":1995.1,"mag":2.2},{"year":1995.7,"mag":2.2},{"year":1996.3,"mag":2.2},{"year":1996.9,"mag":2.2},{"year":1997.5,"mag":2.2},{"year":1998.1,"mag":2.2},{"year":1998.7,"mag":2.2},{"year":1999.3,"mag":2.2},{"year":1999.9,"mag":2.2},{"year":2000.5,"mag":2.2},{"year":2001.1,"mag":2.2},{"year":2001.7,"mag":2.2},{"year":2002.3,"mag":2.2},{"year":2002.9,"mag":2.2},{"year":2003.5,"mag":2.2},{"year":2004.1,"mag":2.2},{"year":2004.7,"mag":2.2},{"year":2005.3,"mag":2.2},{"year":2005.9,"mag":2.2},{"year":2006.5,"mag":2.2},{"year":2007.1,"mag":2.2},{"year":2007.7,"mag":2.2},{"year":2008.3,"mag":2.2},{"year":2008.9,"mag":2.2},{"year":2009.5,"mag":2.2},{"year":2010.1,"mag":2.2},{"year":2010.7,"mag":2.2},{"year":2011.3,"mag":2.2},{"year":2011.9,"mag":2.2},{"year":2012.5,"mag":2.2},{"year":2013.1,"mag":2.2},
{"year":1950.3,"mag":2.1},{"year":1965.7,"mag":2.1},{"year":1966.3,"mag":2.1},{"year":1966.9,"mag":2.1},{"year":1967.5,"mag":2.1},{"year":1968.1,"mag":2.1},{"year":1968.7,"mag":2.1},{"year":1969.3,"mag":2.1},{"year":1969.9,"mag":2.1},{"year":1970.5,"mag":2.1},{"year":1971.1,"mag":2.1},{"year":1971.7,"mag":2.1},{"year":1972.3,"mag":2.1},{"year":1972.9,"mag":2.1},{"year":1973.5,"mag":2.1},{"year":1974.1,"mag":2.1},{"year":1974.7,"mag":2.1},{"year":1975.1,"mag":2.1},{"year":1975.7,"mag":2.1},{"year":1976.3,"mag":2.1},{"year":1976.9,"mag":2.1},{"year":1977.5,"mag":2.1},{"year":1978.1,"mag":2.1},{"year":1978.7,"mag":2.1},{"year":1979.3,"mag":2.1},{"year":1979.9,"mag":2.1},{"year":1980.5,"mag":2.1},{"year":1981.1,"mag":2.1},{"year":1981.7,"mag":2.1},{"year":1982.3,"mag":2.1},{"year":1982.9,"mag":2.1},{"year":1983.5,"mag":2.1},{"year":1984.1,"mag":2.1},{"year":1984.7,"mag":2.1},{"year":1985.3,"mag":2.1},{"year":1985.9,"mag":2.1},{"year":1986.5,"mag":2.1},{"year":1987.1,"mag":2.1},{"year":1987.7,"mag":2.1},{"year":1988.3,"mag":2.1},{"year":1988.9,"mag":2.1},{"year":1989.5,"mag":2.1},{"year":1990.1,"mag":2.1},{"year":1990.7,"mag":2.1},{"year":1991.3,"mag":2.1},{"year":1991.9,"mag":2.1},{"year":1992.5,"mag":2.1},{"year":1993.1,"mag":2.1},{"year":1993.7,"mag":2.1},{"year":1994.3,"mag":2.1},{"year":1994.9,"mag":2.1},{"year":1995.5,"mag":2.1},{"year":1996.1,"mag":2.1},{"year":1996.7,"mag":2.1},{"year":1997.3,"mag":2.1},{"year":1997.9,"mag":2.1},{"year":1998.5,"mag":2.1},{"year":1999.1,"mag":2.1},{"year":1999.7,"mag":2.1},{"year":2000.3,"mag":2.1},{"year":2000.9,"mag":2.1},{"year":2001.5,"mag":2.1},{"year":2002.1,"mag":2.1},{"year":2002.7,"mag":2.1},{"year":2003.3,"mag":2.1},{"year":2003.9,"mag":2.1},{"year":2004.5,"mag":2.1},{"year":2005.1,"mag":2.1},{"year":2005.7,"mag":2.1},{"year":2006.3,"mag":2.1},{"year":2006.9,"mag":2.1},{"year":2007.5,"mag":2.1},{"year":2008.1,"mag":2.1},{"year":2008.7,"mag":2.1},{"year":2009.3,"mag":2.1},{"year":2009.9,"mag":2.1},{"year":2010.5,"mag":2.1},{"year":2011.1,"mag":2.1},{"year":2011.7,"mag":2.1},{"year":2012.3,"mag":2.1},{"year":2012.9,"mag":2.1},{"year":2013.3,"mag":2.1},
{"year":1966.0,"mag":2.1},{"year":1966.6,"mag":2.1},{"year":1967.2,"mag":2.1},{"year":1967.8,"mag":2.1},{"year":1968.4,"mag":2.1},{"year":1969.0,"mag":2.1},{"year":1969.6,"mag":2.1},{"year":1970.2,"mag":2.1},{"year":1970.8,"mag":2.1},{"year":1971.4,"mag":2.1},{"year":1972.0,"mag":2.1},{"year":1972.6,"mag":2.1},{"year":1973.2,"mag":2.1},{"year":1973.8,"mag":2.1},{"year":1974.4,"mag":2.1},{"year":1975.4,"mag":2.1},{"year":1976.0,"mag":2.1},{"year":1976.6,"mag":2.1},{"year":1977.2,"mag":2.1},{"year":1977.8,"mag":2.1},{"year":1978.4,"mag":2.1},{"year":1979.0,"mag":2.1},{"year":1979.6,"mag":2.1},{"year":1980.2,"mag":2.1},{"year":1980.8,"mag":2.1},{"year":1981.4,"mag":2.1},{"year":1982.0,"mag":2.1},{"year":1982.6,"mag":2.1},{"year":1983.2,"mag":2.1},{"year":1983.8,"mag":2.1},{"year":1984.4,"mag":2.1},{"year":1985.0,"mag":2.1},{"year":1985.6,"mag":2.1},{"year":1986.2,"mag":2.1},{"year":1986.8,"mag":2.1},{"year":1987.4,"mag":2.1},{"year":1988.0,"mag":2.1},{"year":1988.6,"mag":2.1},{"year":1989.2,"mag":2.1},{"year":1989.8,"mag":2.1},{"year":1990.4,"mag":2.1},{"year":1991.0,"mag":2.1},{"year":1991.6,"mag":2.1},{"year":1992.2,"mag":2.1},{"year":1992.8,"mag":2.1},{"year":1993.4,"mag":2.1},{"year":1994.0,"mag":2.1},{"year":1994.6,"mag":2.1},{"year":1995.2,"mag":2.1},{"year":1995.8,"mag":2.1},{"year":1996.4,"mag":2.1},{"year":1997.0,"mag":2.1},{"year":1997.6,"mag":2.1},{"year":1998.2,"mag":2.1},{"year":1998.8,"mag":2.1},{"year":1999.4,"mag":2.1},{"year":2000.0,"mag":2.1},{"year":2000.6,"mag":2.1},{"year":2001.2,"mag":2.1},{"year":2001.8,"mag":2.1},{"year":2002.4,"mag":2.1},{"year":2003.0,"mag":2.1},{"year":2003.6,"mag":2.1},{"year":2004.2,"mag":2.1},{"year":2004.8,"mag":2.1},{"year":2005.4,"mag":2.1},{"year":2006.0,"mag":2.1},{"year":2006.6,"mag":2.1},{"year":2007.2,"mag":2.1},{"year":2007.8,"mag":2.1},{"year":2008.4,"mag":2.1},{"year":2009.0,"mag":2.1},{"year":2009.6,"mag":2.1},{"year":2010.2,"mag":2.1},{"year":2010.8,"mag":2.1},{"year":2011.4,"mag":2.1},{"year":2012.0,"mag":2.1},{"year":2012.6,"mag":2.1},
{"year":1965.7,"mag":2.0},{"year":1966.2,"mag":2.0},{"year":1966.7,"mag":2.0},{"year":1967.1,"mag":2.0},{"year":1967.8,"mag":2.0},{"year":1968.4,"mag":2.0},{"year":1969.0,"mag":2.0},{"year":1969.6,"mag":2.0},{"year":1970.2,"mag":2.0},{"year":1971.5,"mag":2.0},{"year":1972.1,"mag":2.0},{"year":1972.6,"mag":2.0},{"year":1973.0,"mag":2.0},{"year":1973.4,"mag":2.0},{"year":1973.9,"mag":2.0},{"year":1974.4,"mag":2.0},{"year":1977.5,"mag":2.0},{"year":1978.1,"mag":2.0},{"year":1978.7,"mag":2.0},{"year":1979.3,"mag":2.0},{"year":1979.8,"mag":2.0},{"year":1981.4,"mag":2.0},{"year":1981.9,"mag":2.0},{"year":1982.4,"mag":2.0},{"year":1982.9,"mag":2.0},{"year":1983.4,"mag":2.0},{"year":1984.2,"mag":2.0},{"year":1985.5,"mag":2.0},{"year":1986.1,"mag":2.0},{"year":1986.7,"mag":2.0},{"year":1987.3,"mag":2.0},{"year":1987.9,"mag":2.0},{"year":1988.5,"mag":2.0},{"year":1989.1,"mag":2.0},{"year":1989.6,"mag":2.0},{"year":1990.0,"mag":2.0},{"year":1990.6,"mag":2.0},{"year":1991.2,"mag":2.0},{"year":1991.8,"mag":2.0},{"year":1992.4,"mag":2.0},{"year":1993.0,"mag":2.0},{"year":1993.6,"mag":2.0},{"year":1994.2,"mag":2.0},{"year":1994.8,"mag":2.0},{"year":1995.4,"mag":2.0},{"year":1996.0,"mag":2.0},{"year":1996.6,"mag":2.0},{"year":1997.2,"mag":2.0},{"year":1997.8,"mag":2.0},{"year":1998.4,"mag":2.0},{"year":1999.0,"mag":2.0},{"year":1999.6,"mag":2.0},{"year":2000.2,"mag":2.0},{"year":2000.8,"mag":2.0},{"year":2001.4,"mag":2.0},{"year":2002.0,"mag":2.0},{"year":2002.6,"mag":2.0},{"year":2003.2,"mag":2.0},{"year":2003.8,"mag":2.0},{"year":2004.4,"mag":2.0},{"year":2005.0,"mag":2.0},{"year":2005.6,"mag":2.0},{"year":2006.2,"mag":2.0},{"year":2006.8,"mag":2.0},{"year":2007.4,"mag":2.0},{"year":2008.0,"mag":2.0},{"year":2008.6,"mag":2.0},{"year":2009.2,"mag":2.0},{"year":2009.8,"mag":2.0},{"year":2010.4,"mag":2.0},{"year":2011.0,"mag":2.0},{"year":2011.6,"mag":2.0},{"year":2012.2,"mag":2.0},{"year":2012.8,"mag":2.0},{"year":2013.3,"mag":2.0},
{"year":1990.9,"mag":2.0},{"year":1991.5,"mag":2.0},{"year":1992.1,"mag":2.0},{"year":1992.7,"mag":2.0},{"year":1993.3,"mag":2.0},{"year":1993.9,"mag":2.0},{"year":1994.5,"mag":2.0},{"year":1995.1,"mag":2.0},{"year":1995.7,"mag":2.0},{"year":1996.3,"mag":2.0},{"year":1996.9,"mag":2.0},{"year":1997.5,"mag":2.0},{"year":1998.1,"mag":2.0},{"year":1998.7,"mag":2.0},{"year":1999.3,"mag":2.0},{"year":1999.9,"mag":2.0},{"year":2000.5,"mag":2.0},{"year":2001.1,"mag":2.0},{"year":2001.7,"mag":2.0},{"year":2002.3,"mag":2.0},{"year":2002.9,"mag":2.0},{"year":2003.5,"mag":2.0},{"year":2004.1,"mag":2.0},{"year":2004.7,"mag":2.0},{"year":2005.3,"mag":2.0},{"year":2005.9,"mag":2.0},{"year":2006.5,"mag":2.0},{"year":2007.1,"mag":2.0},{"year":2007.7,"mag":2.0},{"year":2008.3,"mag":2.0},{"year":2008.9,"mag":2.0},{"year":2009.5,"mag":2.0},{"year":2010.1,"mag":2.0},{"year":2010.7,"mag":2.0},{"year":2011.3,"mag":2.0},{"year":2011.9,"mag":2.0},{"year":2012.5,"mag":2.0},{"year":2013.1,"mag":2.0},
{"year":1968.0,"mag":1.9},{"year":1968.6,"mag":1.9},{"year":1969.2,"mag":1.9},{"year":1981.9,"mag":1.9},{"year":1982.5,"mag":1.9},{"year":1986.0,"mag":1.9},{"year":1990.4,"mag":1.9},{"year":1991.0,"mag":1.9},{"year":1991.6,"mag":1.9},{"year":1992.1,"mag":1.9},{"year":1993.0,"mag":1.9},{"year":1994.9,"mag":1.9},{"year":1995.5,"mag":1.9},{"year":1996.1,"mag":1.9},{"year":1996.7,"mag":1.9},{"year":1997.3,"mag":1.9},{"year":1997.9,"mag":1.9},{"year":1998.5,"mag":1.9},{"year":1999.1,"mag":1.9},{"year":1999.8,"mag":1.9},{"year":2000.4,"mag":1.9},{"year":2001.0,"mag":1.9},{"year":2001.6,"mag":1.9},{"year":2002.2,"mag":1.9},{"year":2002.8,"mag":1.9},{"year":2003.1,"mag":1.9},{"year":2004.0,"mag":1.9},{"year":2004.6,"mag":1.9},{"year":2005.2,"mag":1.9},{"year":2005.8,"mag":1.9},{"year":2006.4,"mag":1.9},{"year":2007.0,"mag":1.9},{"year":2007.6,"mag":1.9},{"year":2008.2,"mag":1.9},{"year":2008.8,"mag":1.9},{"year":2009.4,"mag":1.9},{"year":2010.0,"mag":1.9},{"year":2010.6,"mag":1.9},{"year":2011.2,"mag":1.9},{"year":2011.8,"mag":1.9},{"year":2012.4,"mag":1.9},{"year":2013.0,"mag":1.9},
{"year":2004.3,"mag":1.9},{"year":2004.9,"mag":1.9},{"year":2005.5,"mag":1.9},{"year":2006.1,"mag":1.9},{"year":2006.7,"mag":1.9},{"year":2007.3,"mag":1.9},{"year":2007.9,"mag":1.9},{"year":2008.5,"mag":1.9},{"year":2009.1,"mag":1.9},{"year":2009.7,"mag":1.9},{"year":2010.3,"mag":1.9},{"year":2010.9,"mag":1.9},{"year":2011.5,"mag":1.9},{"year":2012.1,"mag":1.9},{"year":2012.7,"mag":1.9},
{"year":1995.6,"mag":1.8},{"year":1996.6,"mag":1.8},{"year":1998.1,"mag":1.8},{"year":1998.7,"mag":1.8},{"year":1999.3,"mag":1.8},{"year":1999.8,"mag":1.8},{"year":2003.4,"mag":1.8},{"year":2004.5,"mag":1.8},{"year":2005.4,"mag":1.8},{"year":2006.0,"mag":1.8},{"year":2006.6,"mag":1.8},{"year":2007.2,"mag":1.8},{"year":2007.8,"mag":1.8},{"year":2008.4,"mag":1.8},{"year":2009.0,"mag":1.8},{"year":2009.6,"mag":1.8},{"year":2010.2,"mag":1.8},{"year":2010.8,"mag":1.8},{"year":2011.4,"mag":1.8},{"year":2012.0,"mag":1.8},{"year":2012.6,"mag":1.8},{"year":2013.1,"mag":1.8},
{"year":2005.7,"mag":1.8},{"year":2006.3,"mag":1.8},{"year":2006.9,"mag":1.8},{"year":2007.5,"mag":1.8},{"year":2008.1,"mag":1.8},{"year":2008.7,"mag":1.8},{"year":2009.3,"mag":1.8},{"year":2009.9,"mag":1.8},{"year":2010.5,"mag":1.8},{"year":2011.1,"mag":1.8},{"year":2011.7,"mag":1.8},{"year":2012.3,"mag":1.8},{"year":2012.9,"mag":1.8},
{"year":2005.7,"mag":1.7},{"year":2006.7,"mag":1.7},{"year":2008.4,"mag":1.7},{"year":2009.1,"mag":1.7},{"year":2010.4,"mag":1.7},
{"year":2006.9,"mag":1.6},{"year":2007.6,"mag":1.6},{"year":2011.6,"mag":1.6}
],
"vp": [
{"year":2006.5,"mag":2.05},{"year":2006.8,"mag":2.05},{"year":2007.1,"mag":2.05},{"year":2008.5,"mag":2.05},{"year":2012.2,"mag":2.05},{"year":2012.5,"mag":2.05},{"year":2009.4,"mag":1.92},
{"year":2006.6,"mag":2.15},{"year":2007.0,"mag":2.15},{"year":2007.4,"mag":2.15},{"year":2007.9,"mag":2.15},{"year":2008.2,"mag":2.15},
{"year":2006.5,"mag":2.25},{"year":2006.9,"mag":2.25},{"year":2007.3,"mag":2.25},{"year":2007.7,"mag":2.25},{"year":2008.1,"mag":2.25},{"year":2008.5,"mag":2.25},{"year":2009.0,"mag":2.25},{"year":2009.5,"mag":2.25},{"year":2010.0,"mag":2.25},{"year":2010.5,"mag":2.25},{"year":2011.0,"mag":2.25},{"year":2011.5,"mag":2.25},{"year":2012.0,"mag":2.25},{"year":2012.5,"mag":2.25},{"year":2013.0,"mag":2.25},
{"year":2007.2,"mag":2.18},{"year":2007.5,"mag":2.28},{"year":2008.0,"mag":2.17},{"year":2008.6,"mag":2.27},{"year":2009.2,"mag":2.23},{"year":2010.2,"mag":2.27},{"year":2011.2,"mag":2.23},{"year":2012.0,"mag":2.28},
{"year":2007.4,"mag":2.35},{"year":2008.6,"mag":2.35},{"year":2009.3,"mag":2.35},{"year":2009.8,"mag":2.35},{"year":2010.3,"mag":2.35},{"year":2010.8,"mag":2.35},{"year":2011.3,"mag":2.35},{"year":2011.8,"mag":2.35},{"year":2012.3,"mag":2.35},{"year":2012.8,"mag":2.35},{"year":2013.1,"mag":2.35},
{"year":2010.6,"mag":2.45},{"year":2012.4,"mag":2.45},{"year":2010.4,"mag":2.55}
],
"gv": [
{"year":2001.5,"mag":2.15},{"year":2001.6,"mag":2.17},{"year":2001.7,"mag":2.16},{"year":2002.8,"mag":2.16},{"year":2002.9,"mag":2.18},{"year":2005.3,"mag":2.14},{"year":2005.8,"mag":2.15},{"year":2005.9,"mag":2.18},{"year":2006.7,"mag":2.16},{"year":2007.3,"mag":2.12},{"year":2007.6,"mag":2.19},{"year":2007.7,"mag":2.22},{"year":2007.7,"mag":2.24},{"year":2008.1,"mag":2.17},{"year":2008.3,"mag":2.34},{"year":2008.5,"mag":2.13},{"year":2008.8,"mag":2.15},{"year":2009.0,"mag":2.11},{"year":2009.2,"mag":2.16},{"year":2009.4,"mag":2.07},{"year":2009.5,"mag":2.01},{"year":2009.5,"mag":2.1},{"year":2009.7,"mag":2.13},{"year":2009.9,"mag":2.18},{"year":2010.0,"mag":2.3},{"year":2010.1,"mag":2.12},{"year":2010.2,"mag":2.15},{"year":2010.3,"mag":2.09},{"year":2010.4,"mag":2.17},{"year":2010.5,"mag":2.13},{"year":2010.6,"mag":2.11},{"year":2010.7,"mag":2.16},{"year":2010.8,"mag":2.19},{"year":2010.9,"mag":2.1},{"year":2011.0,"mag":2.14},{"year":2011.1,"mag":2.12},{"year":2011.2,"mag":2.17},{"year":2011.3,"mag":2.09},{"year":2011.4,"mag":2.15},{"year":2011.5,"mag":2.11},{"year":2011.6,"mag":2.13},{"year":2011.6,"mag":2.18},{"year":2011.7,"mag":2.03},{"year":2011.7,"mag":2.1},{"year":2011.8,"mag":2.15},{"year":2011.8,"mag":1.98},{"year":2011.9,"mag":2.12},{"year":2012.0,"mag":2.16},{"year":2012.0,"mag":2.09},{"year":2012.1,"mag":2.13},{"year":2012.2,"mag":2.11},{"year":2012.2,"mag":2.18},{"year":2012.3,"mag":2.14},{"year":2012.3,"mag":2.21},{"year":2012.4,"mag":2.1},{"year":2012.5,"mag":2.12},{"year":2012.5,"mag":2.16},{"year":2012.6,"mag":2.08},{"year":2012.6,"mag":2.13},{"year":2012.7,"mag":2.11},{"year":2012.7,"mag":2.17},{"year":2012.8,"mag":2.09},{"year":2012.8,"mag":2.14},{"year":2012.9,"mag":2.12},{"year":2012.9,"mag":2.1},{"year":2013.0,"mag":2.15},{"year":2013.0,"mag":2.11},{"year":2013.1,"mag":2.13},{"year":2013.1,"mag":2.09},{"year":2013.2,"mag":2.12},{"year":2013.2,"mag":2.1},{"year":2012.4,"mag":2.2},{"year":2012.1,"mag":2.22},{"year":2011.4,"mag":2.2},{"year":2010.9,"mag":2.05},{"year":2009.9,"mag":2.08},{"year":2012.8,"mag":2.06},{"year":2012.5,"mag":2.04}
],
"gp": [
{"year":2012.9,"mag":2.19},{"year":2013.1,"mag":2.16},{"year":2011.9,"mag":2.2},{"year":2012.6,"mag":2.05},{"year":2011.9,"mag":1.96}
],
"eb": [
{"year":2008.3,"lo":2.22,"hi":2.46},{"year":2010.5,"lo":2.06,"hi":2.2},{"year":2011.8,"lo":1.95,"hi":2.03},{"year":2012.1,"lo":2.12,"hi":2.26},{"year":2009.5,"lo":2.0,"hi":2.12}
]
},
"resolve": {"axis": {"x": "independent", "y": "independent"}},
"layer": [
{
  "data": {"name": "vv"},
  "mark": {"type": "point", "filled": true, "opacity": 1, "size": 100, "clip": false},
  "encoding": {
    "x": {"field": "year", "type": "quantitative",
      "scale": {"domain": [1944.9055, 2013.3531], "nice": false, "zero": false},
      "axis": {"values": [1944.9055, 1962.0174, 1979.1293, 1996.2412, 2013.3531], "grid": true, "labelPadding": 16, "labelLineHeight": 17, "labelBaseline": "top", "labelOverlap": false, "labelFlush": false, "labelBound": false,
        "labelExpr": "datum.value < 1950 ? ['11/27/1944','02:12'] : datum.value < 1970 ? ['01/07/1962','02:12'] : datum.value < 1990 ? ['02/17/1979','02:12'] : datum.value < 2005 ? ['03/29/1996','02:12'] : ['04/29/2013','02:12']",
        "title": "Date", "titleY": 48, "titleBaseline": "middle", "titleFontSize": 16}},
    "y": {"field": "mag", "type": "quantitative",
      "scale": {"domain": [1.6, 3.2], "reverse": true, "nice": false, "zero": false},
      "axis": {"values": [1.6, 1.8, 2.0, 2.2, 2.4, 2.6, 2.8, 3.0, 3.2], "format": "~g", "grid": true, "labelPadding": 13, "title": "Magnitude", "titleX": -70, "titleBaseline": "middle", "titleFontSize": 15}},
    "color": {"datum": "Visual Validated", "type": "nominal",
      "scale": {"domain": ["Visual Validated", "Visual Prevalidated", "V Validated", "V Prevalidated"], "range": ["#000000", "#111111", "#22ee22", "#33dd33"]}}
  }
},
{
  "data": {"name": "vp"},
  "mark": {"type": "point", "filled": true, "opacity": 1, "size": 100, "clip": false},
  "encoding": {
    "x": {"field": "year", "type": "quantitative", "axis": null},
    "y": {"field": "mag", "type": "quantitative", "axis": null},
    "color": {"datum": "Visual Prevalidated", "type": "nominal"}
  }
},
{
  "data": {"name": "eb"},
  "mark": {"type": "rule", "color": "#44dd44", "strokeWidth": 1},
  "encoding": {
    "x": {"field": "year", "type": "quantitative", "axis": {"orient": "top", "values": [1944.9055, 1962.0174, 1979.1293, 1996.2412, 2013.3531], "labels": false, "grid": false, "title": null}},
    "y": {"field": "lo", "type": "quantitative", "axis": {"orient": "right", "values": [1.6, 1.8, 2.0, 2.2, 2.4, 2.6, 2.8, 3.0, 3.2], "labels": false, "grid": false, "title": null}},
    "y2": {"field": "hi"}
  }
},
{
  "data": {"name": "gv"},
  "mark": {"type": "point", "filled": true, "opacity": 1, "size": 115, "clip": false},
  "encoding": {
    "x": {"field": "year", "type": "quantitative", "axis": null},
    "y": {"field": "mag", "type": "quantitative", "axis": null},
    "color": {"datum": "V Validated", "type": "nominal"}
  }
},
{
  "data": {"name": "gp"},
  "mark": {"type": "point", "filled": true, "opacity": 1, "size": 115, "clip": false},
  "encoding": {
    "x": {"field": "year", "type": "quantitative", "axis": null},
    "y": {"field": "mag", "type": "quantitative", "axis": null},
    "color": {"datum": "V Prevalidated", "type": "nominal"}
  }
}
]
}
